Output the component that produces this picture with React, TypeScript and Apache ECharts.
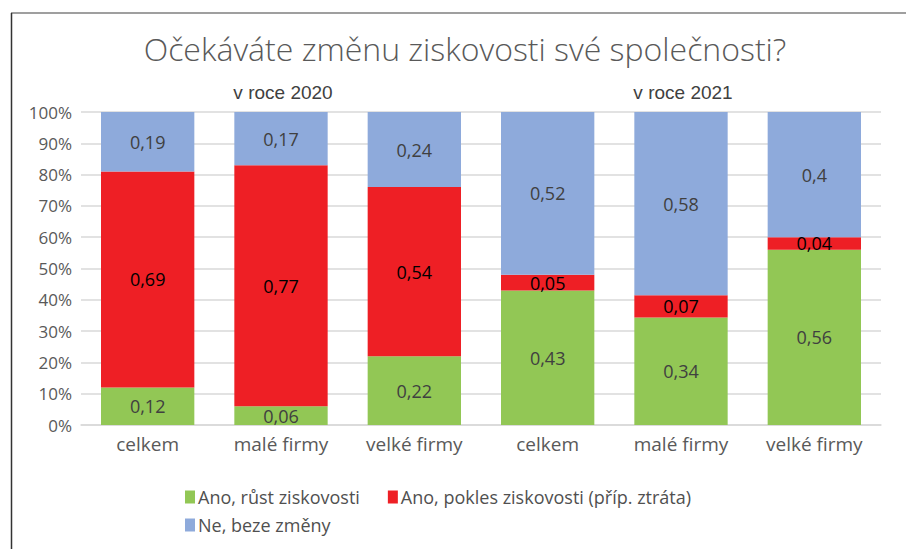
import React, { useEffect, useRef } from "react";
import * as echarts from "echarts";

const categories = ["celkem", "malé firmy", "velké firmy", "celkem", "malé firmy", "velké firmy"];
const growth = [0.12, 0.06, 0.22, 0.43, 0.34, 0.56];
const decline = [0.69, 0.77, 0.54, 0.05, 0.07, 0.04];
const noChange = [0.19, 0.17, 0.24, 0.52, 0.58, 0.4];
const seriesNames = ["Ano, růst ziskovosti", "Ano, pokles ziskovosti (příp. ztráta)", "Ne, beze změny"];
const groupLabels = ["v roce 2020", "v roce 2021"];
const yTicks = [0, 10, 20, 30, 40, 50, 60, 70, 80, 90, 100];

const FONT = "'Open Sans', 'Noto Sans', sans-serif";

export default function App() {
  const ref = useRef<HTMLDivElement>(null);
  useEffect(() => {
    if (!ref.current) return;
    const chart = echarts.init(ref.current, null, { renderer: "svg" });
    const totals = categories.map((_, i) => growth[i] + decline[i] + noChange[i]);
    const mk = (arr: number[]) => arr.map((v, i) => ({ value: (v / totals[i]) * 100, raw: v }));
    const fmt = (p: any) => String(p.data.raw).replace(".", ",");
    const colors = ["#92c755", "#ee1f25", "#8eaadb"];
    const labelColors = ["#404040", "#000000", "#404040"];
    const datasets = [growth, decline, noChange];
    const legendText = { fontFamily: FONT, fontSize: 18, color: "#505050", padding: [0, 0, 0, -2] };
    const subStyle = { fontFamily: "'Liberation Sans', Arial, sans-serif", fontSize: 19, fill: "#404040", textAlign: "center", textVerticalAlign: "middle" };
    chart.setOption({
      animation: false,
      textStyle: { fontFamily: FONT },
      grid: { left: 81, right: 25, top: 112, bottom: 124, containLabel: false },
      title: {
        text: "Očekáváte změnu ziskovosti své společnosti?",
        left: 460,
        textAlign: "center",
        top: 27,
        textStyle: { fontFamily: FONT, fontSize: 32, fontWeight: 300, color: "#595959" },
      },
      graphic: [
        { type: "line", shape: { x1: 11, y1: 13, x2: 906, y2: 13 }, style: { stroke: "#7f7f7f", lineWidth: 1.5 } },
        { type: "line", shape: { x1: 11.5, y1: 13, x2: 11.5, y2: 549 }, style: { stroke: "#333", lineWidth: 1.5 } },
        { type: "text", x: 283, y: 92, style: { ...subStyle, text: groupLabels[0] } },
        { type: "text", x: 683, y: 92, style: { ...subStyle, text: groupLabels[1] } },
      ],
      legend: [
        {
          left: 180,
          top: 483,
          itemWidth: 10,
          itemHeight: 13,
          itemGap: 28,
          icon: "rect",
          textStyle: legendText,
          data: seriesNames.slice(0, 2),
        },
        {
          left: 180,
          top: 511,
          itemWidth: 10,
          itemHeight: 13,
          icon: "rect",
          textStyle: legendText,
          data: seriesNames.slice(2),
        },
      ],
      xAxis: {
        type: "category",
        data: categories,
        axisLine: { lineStyle: { color: "#d9d9d9", width: 1.5 } },
        axisTick: { show: false },
        axisLabel: { fontFamily: FONT, fontSize: 19, color: "#595959", margin: 9 },
      },
      yAxis: {
        type: "value",
        min: 0,
        max: 100,
        interval: 10,
        axisLine: { show: false },
        axisTick: { show: false },
        axisLabel: {
          fontFamily: FONT, fontSize: 17, color: "#595959", margin: 9,
          formatter: (v: number) => (yTicks.includes(v) ? v + "%" : ""),
        },
        splitLine: { lineStyle: { color: "#d9d9d9", width: 1.5 } },
      },
      series: datasets.map((d, si) => ({
        name: seriesNames[si],
        type: "bar",
        stack: "total",
        barWidth: "70%",
        itemStyle: { color: colors[si] },
        label: {
          show: true,
          position: "inside",
          formatter: fmt,
          fontFamily: FONT,
          fontSize: 18,
          color: labelColors[si],
        },
        data: mk(d),
      })),
    });
    return () => chart.dispose();
  }, []);
  return <div ref={ref} style={{ position: "fixed", left: 0, top: 0, width: 906, height: 549, background: "#fff" }} />;
}
